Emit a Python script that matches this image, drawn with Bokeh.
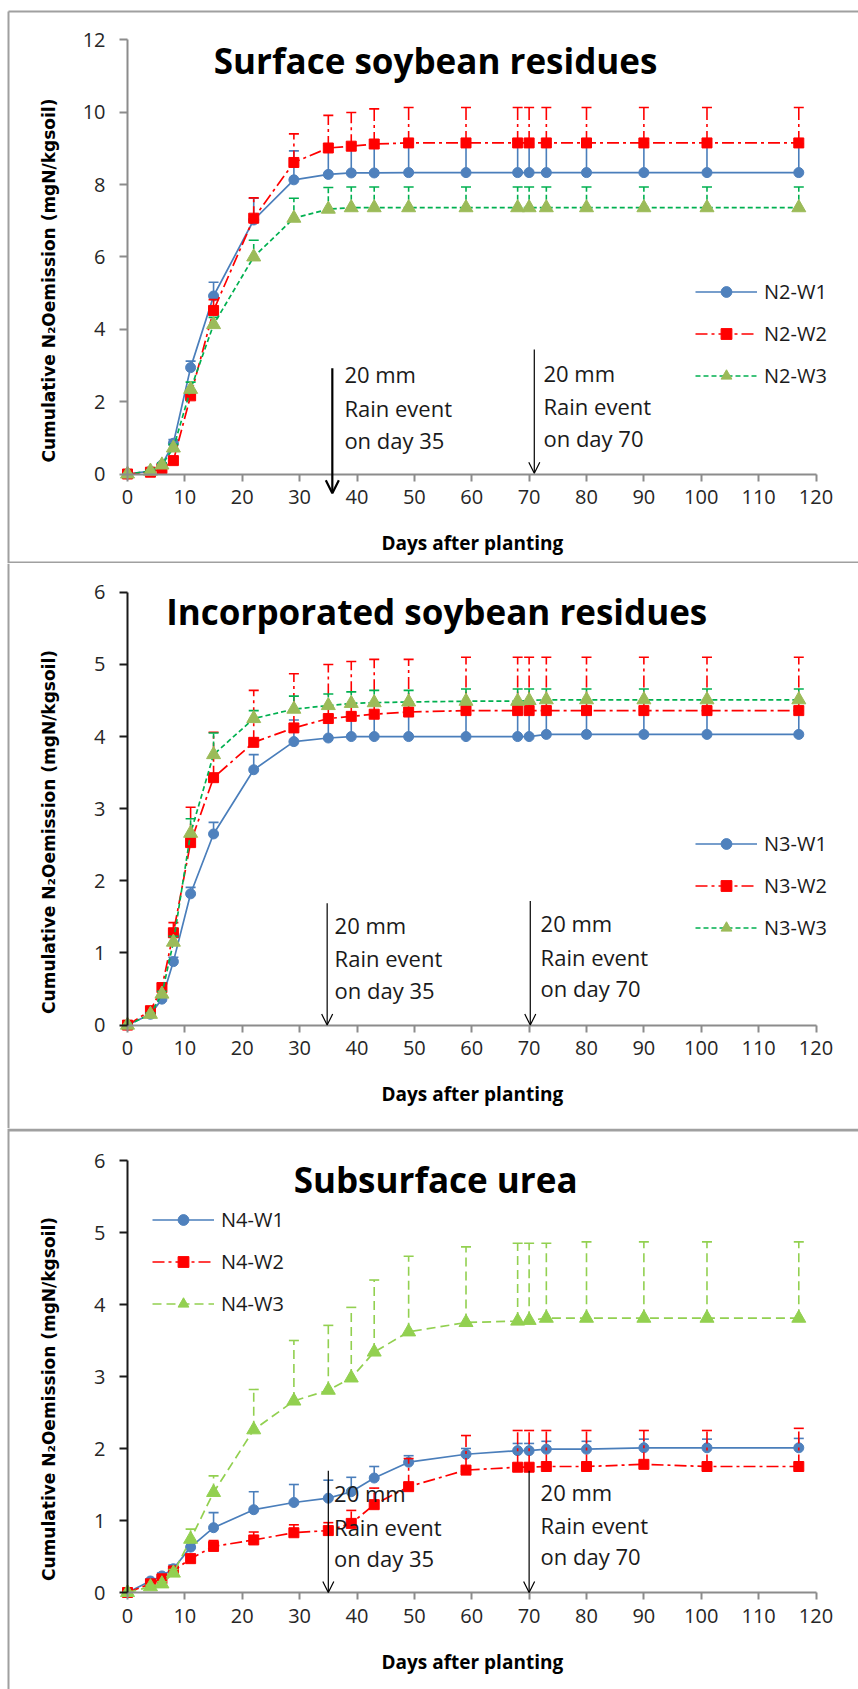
import numpy as np
from bokeh.plotting import figure
from bokeh.models import (Range1d, LinearAxis, FixedTicker, Legend, LegendItem,
                          Arrow, OpenHead, Label, ColumnDataSource)
from bokeh.layouts import column
from bokeh.embed import file_html
from bokeh.resources import INLINE

# ---------------- data ----------------
DAYS = [0, 4, 6, 8, 11, 15, 22, 29, 35, 39, 43, 49, 59, 68, 70, 73, 80, 90, 101, 117]
X_TICKS = list(range(0, 121, 10))

# Surface soybean residues
N2_W1 = [0, 0.08, 0.25, 0.85, 2.94, 4.92, 7.02, 8.13, 8.28, 8.32, 8.32, 8.33, 8.33, 8.33, 8.33, 8.33, 8.33, 8.33, 8.33, 8.33]
N2_W1_ERR = [0, 0.03, 0.05, 0.1, 0.18, 0.38, 0.6, 0.8, 0.8, 0.8, 0.8, 0.8, 0.8, 0.8, 0.8, 0.8, 0.8, 0.8, 0.8, 0.8]
N2_W2 = [0, 0.05, 0.15, 0.37, 2.16, 4.52, 7.07, 8.61, 9.01, 9.06, 9.12, 9.15, 9.15, 9.15, 9.15, 9.15, 9.15, 9.15, 9.15, 9.15]
N2_W2_ERR = [0, 0.02, 0.05, 0.08, 0.15, 0.3, 0.56, 0.79, 0.9, 0.93, 0.97, 0.98, 0.98, 0.98, 0.98, 0.98, 0.98, 0.98, 0.98, 0.98]
N2_W3 = [0, 0.08, 0.25, 0.72, 2.34, 4.13, 6.0, 7.07, 7.32, 7.36, 7.36, 7.36, 7.36, 7.36, 7.36, 7.36, 7.36, 7.36, 7.36, 7.36]
N2_W3_ERR = [0, 0.02, 0.05, 0.1, 0.2, 0.2, 0.46, 0.55, 0.6, 0.57, 0.57, 0.57, 0.57, 0.57, 0.57, 0.57, 0.57, 0.57, 0.57, 0.57]

# Incorporated soybean residues
N3_W1 = [0, 0.15, 0.36, 0.88, 1.82, 2.65, 3.54, 3.93, 3.98, 4.0, 4.0, 4.0, 4.0, 4.0, 4.0, 4.03, 4.03, 4.03, 4.03, 4.03]
N3_W1_ERR = [0, 0.02, 0.04, 0.06, 0.09, 0.16, 0.21, 0.3, 0.3, 0.3, 0.3, 0.3, 0.33, 0.33, 0.33, 0.33, 0.33, 0.33, 0.33, 0.33]
N3_W2 = [0, 0.2, 0.52, 1.28, 2.53, 3.43, 3.92, 4.12, 4.25, 4.28, 4.31, 4.34, 4.36, 4.36, 4.36, 4.36, 4.36, 4.36, 4.36, 4.36]
N3_W2_ERR = [0, 0.03, 0.06, 0.14, 0.49, 0.63, 0.72, 0.75, 0.75, 0.76, 0.76, 0.73, 0.74, 0.74, 0.74, 0.74, 0.74, 0.74, 0.74, 0.74]
N3_W3 = [0, 0.15, 0.43, 1.15, 2.66, 3.75, 4.25, 4.38, 4.43, 4.46, 4.47, 4.48, 4.49, 4.49, 4.5, 4.51, 4.51, 4.51, 4.51, 4.51]
N3_W3_ERR = [0, 0.02, 0.04, 0.08, 0.2, 0.3, 0.11, 0.18, 0.16, 0.16, 0.17, 0.16, 0.17, 0.17, 0.16, 0.15, 0.15, 0.15, 0.15, 0.15]

# Subsurface urea
N4_W1 = [0, 0.16, 0.23, 0.33, 0.63, 0.90, 1.15, 1.25, 1.31, 1.4, 1.59, 1.81, 1.92, 1.97, 1.97, 1.99, 1.99, 2.01, 2.01, 2.01]
N4_W1_ERR = [0, 0.03, 0.04, 0.05, 0.08, 0.21, 0.25, 0.25, 0.25, 0.2, 0.16, 0.09, 0.08, 0.1, 0.1, 0.11, 0.11, 0.12, 0.12, 0.13]
N4_W2 = [0, 0.12, 0.19, 0.3, 0.47, 0.64, 0.73, 0.83, 0.86, 0.96, 1.22, 1.47, 1.70, 1.74, 1.74, 1.75, 1.75, 1.78, 1.75, 1.75]
N4_W2_ERR = [0, 0.02, 0.03, 0.05, 0.06, 0.08, 0.11, 0.11, 0.11, 0.18, 0.23, 0.39, 0.48, 0.51, 0.51, 0.5, 0.5, 0.47, 0.5, 0.53]
N4_W3 = [0, 0.08, 0.12, 0.27, 0.74, 1.39, 2.26, 2.66, 2.81, 2.98, 3.34, 3.62, 3.75, 3.77, 3.78, 3.81, 3.81, 3.81, 3.81, 3.81]
N4_W3_ERR = [0, 0.02, 0.03, 0.05, 0.14, 0.23, 0.56, 0.84, 0.9, 0.98, 1.0, 1.05, 1.05, 1.08, 1.07, 1.04, 1.06, 1.06, 1.06, 1.06]

TITLES = ["Surface soybean residues", "Incorporated soybean residues", "Subsurface urea"]
LABELS = [["N2-W1", "N2-W2", "N2-W3"], ["N3-W1", "N3-W2", "N3-W3"], ["N4-W1", "N4-W2", "N4-W3"]]
X_TITLE = "Days after planting"
Y_TITLE = "Cumulative  N\u2082Oemission  (mgN/kgsoil)"
RAIN_TEXT_1 = ["20 mm", "Rain event", "on day 35"]
RAIN_TEXT_2 = ["20 mm", "Rain event", "on day 70"]

# ---------------- layout / style ----------------
PAGE_W = 858
X0_PX, X120_PX = 127.0, 815.5
BLUE, BLUE_M = "#4A7EBB", "#4F81BD"
RED = "#FF0000"
BORDER = "#A0A0A0"
TITLE_SHIFT, RAIN_SHIFT, XT_SHIFT = 10, 8, 7   # px upward

PANELS = [
    dict(top=0, h=563, y0=473.5, ymaxpx=39.3, ymax=12, ystep=2,
         series=[(N2_W1, N2_W1_ERR), (N2_W2, N2_W2_ERR), (N2_W3, N2_W3_ERR)],
         green_line="#00B050", green_m="#9BBB59", green_dash="5 3",
         yaxis_color="#8C8C8C",
         title_xy=(53.7, 11.15), legend_loc=(695, 174),
         arrows=[(35.7, 2.92, -0.53, 2.2, 13), (70.9, 3.44, 0.02, 1.2, 11)],
         t1=(37.8, [2.535, 1.609, 0.724]), t2=(72.5, [2.58, 1.66, 0.774]),
         xt_y=-2.09, yt_y=5.51, borders=dict(top=11, sep_bottom=562)),
    dict(top=563, h=565, y0=1024.6, ymaxpx=591.8, ymax=6, ystep=1,
         series=[(N3_W1, N3_W1_ERR), (N3_W2, N3_W2_ERR), (N3_W3, N3_W3_ERR)],
         green_line="#00B050", green_m="#9BBB59", green_dash="5 3",
         yaxis_color="#1A1A1A",
         title_xy=(53.9, 5.59), legend_loc=(695, 187),
         arrows=[(34.8, 1.69, 0.0, 1.2, 11), (70.2, 1.72, 0.0, 1.2, 11)],
         t1=(36.1, [1.27, 0.817, 0.38]), t2=(72.0, [1.30, 0.84, 0.405]),
         xt_y=-1.055, yt_y=2.76, borders=dict()),
    dict(top=1128, h=561, y0=1592.0, ymaxpx=1160.0, ymax=6, ystep=1,
         series=[(N4_W1, N4_W1_ERR), (N4_W2, N4_W2_ERR), (N4_W3, N4_W3_ERR)],
         green_line="#92D050", green_m="#92D050", green_dash="9 5",
         yaxis_color="#1A1A1A",
         title_xy=(53.7, 5.6), legend_loc=(152, 372),
         arrows=[(35.0, 1.69, 0.0, 1.2, 11), (70.0, 1.69, 0.0, 1.2, 11)],
         t1=(36.0, [1.265, 0.805, 0.367]), t2=(72.0, [1.29, 0.83, 0.39]),
         xt_y=-1.056, yt_y=2.77, borders=dict(sep_top=1129.5)),
]


def make_panel(i, cfg):
    sx = (X120_PX - X0_PX) / 120.0
    sy = (cfg["y0"] - cfg["ymaxpx"]) / cfg["ymax"]
    px2x = lambda px: (px - X0_PX) / sx
    py2y = lambda py: (cfg["y0"] - py) / sy
    top, h = cfg["top"], cfg["h"]

    p = figure(width=PAGE_W, height=h,
               x_range=Range1d(px2x(0), px2x(PAGE_W)),
               y_range=Range1d(py2y(top + h), py2y(top)),
               x_axis_type=None, y_axis_type=None,
               toolbar_location=None, output_backend="svg",
               min_border=0, min_border_left=0, min_border_right=0,
               min_border_top=0, min_border_bottom=0,
               outline_line_color=None, background_fill_color="white",
               border_fill_color="white")

    # panel frame lines
    xl = px2x(8)
    p.segment(x0=[xl], y0=[py2y(top + (11 if i == 0 else 0))], x1=[xl], y1=[py2y(top + h)],
              line_color=BORDER, line_width=2)
    b = cfg["borders"]
    for key, lw in (("top", 2), ("sep_bottom", 2), ("sep_top", 3)):
        if key in b:
            p.segment(x0=[xl], y0=[py2y(b[key])], x1=[px2x(PAGE_W)], y1=[py2y(b[key])],
                      line_color=BORDER, line_width=lw)

    # axes
    xa = LinearAxis(fixed_location=0, bounds=(0, 120), ticker=FixedTicker(ticks=X_TICKS),
                    axis_line_color="#8C8C8C", axis_line_width=2,
                    major_tick_line_color="#8C8C8C", major_tick_line_width=2,
                    major_tick_out=7, major_tick_in=0, minor_tick_out=0, minor_tick_in=0,
                    major_label_text_font="Open Sans", major_label_text_font_size="20px",
                    major_label_text_color="#262626", major_label_standoff=9)
    p.add_layout(xa, "below")
    yt = list(np.arange(0, cfg["ymax"] + 0.001, cfg["ystep"]))
    ya = LinearAxis(fixed_location=0, bounds=(0, cfg["ymax"]), ticker=FixedTicker(ticks=yt),
                    axis_line_color=cfg["yaxis_color"], axis_line_width=2,
                    major_tick_line_color=cfg["yaxis_color"], major_tick_line_width=2,
                    major_tick_out=8, major_tick_in=0, minor_tick_out=0, minor_tick_in=0,
                    major_label_text_font="Open Sans", major_label_text_font_size="20px",
                    major_label_text_color="#262626", major_label_standoff=14)
    p.add_layout(ya, "left")

    styles = [
        dict(color=BLUE, mcolor=BLUE_M, dash="solid", marker="circle", size=10),
        dict(color=RED, mcolor=RED, dash="12 4 3 4", marker="square", size=10),
        dict(color=cfg["green_line"], mcolor=cfg["green_m"], dash=cfg["green_dash"],
             marker="triangle", size=14),
    ]
    items = []
    for (vals, err), st, lab in zip(cfg["series"], styles, LABELS[i]):
        src = ColumnDataSource(dict(x=DAYS, y=vals, top=[v + e for v, e in zip(vals, err)]))
        lr = p.line("x", "y", source=src, line_color=st["color"], line_width=1.7,
                    line_dash=st["dash"])
        p.segment(x0="x", y0="y", x1="x", y1="top", source=src, line_color=st["color"],
                  line_width=1.6, line_dash=st["dash"])
        p.scatter(x="x", y="top", source=src, marker="dash", size=10,
                  line_color=st["color"], line_width=1.6)
        mr = p.scatter(x="x", y="y", source=src, marker=st["marker"], size=st["size"],
                       fill_color=st["mcolor"], line_color=st["mcolor"])
        items.append(LegendItem(label=lab, renderers=[lr, mr]))

    leg = Legend(items=items, location=cfg["legend_loc"], orientation="vertical",
                 glyph_width=62, glyph_height=27, label_height=27, label_standoff=7,
                 spacing=15, padding=0, margin=0, border_line_color=None,
                 background_fill_alpha=0, label_text_font="Open Sans",
                 label_text_font_size="20px", label_text_color="#1A1A1A")
    p.add_layout(leg)

    # title
    tx, ty = cfg["title_xy"]
    p.add_layout(Label(x=tx, y=ty + TITLE_SHIFT / sy, text=TITLES[i], text_align="center",
                       text_baseline="alphabetic", text_font="Open Sans",
                       text_font_style="bold", text_font_size="35px", text_color="black"))
    # axis titles
    p.add_layout(Label(x=60.1, y=cfg["xt_y"] + XT_SHIFT / sy, text=X_TITLE, text_align="center",
                       text_baseline="alphabetic", text_font="Open Sans",
                       text_font_style="bold", text_font_size="19px", text_color="black"))
    p.add_layout(Label(x=px2x(48.5), y=cfg["yt_y"], text=Y_TITLE, angle=np.pi / 2,
                       text_align="center", text_baseline="middle", text_font="DejaVu Sans",
                       text_font_style="bold", text_font_size="17px", text_color="black"))

    # rain event arrows and notes
    for (ax, ay0, ay1, lw, hs) in cfg["arrows"]:
        p.add_layout(Arrow(x_start=ax, y_start=ay0, x_end=ax, y_end=ay1,
                           line_color="black", line_width=lw,
                           end=OpenHead(size=hs, line_color="black", line_width=lw)))
    for (txx, ys), lines in ((cfg["t1"], RAIN_TEXT_1), (cfg["t2"], RAIN_TEXT_2)):
        for yy, s in zip(ys, lines):
            p.add_layout(Label(x=txx, y=yy + RAIN_SHIFT / sy, text=s, text_align="left",
                               text_baseline="alphabetic", text_font="Open Sans",
                               text_font_size="22px", text_color="#1A1A1A"))
    return p


figs = [make_panel(i, c) for i, c in enumerate(PANELS)]
layout = column(*figs, spacing=0)
open("out.html", "w").write(file_html(layout, INLINE))
